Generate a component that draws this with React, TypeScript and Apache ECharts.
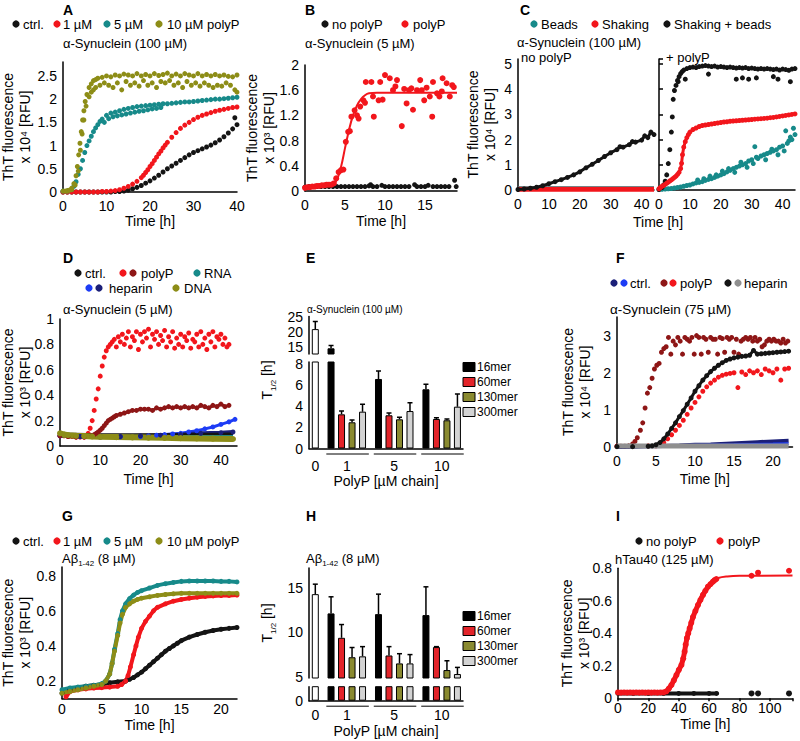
import React, { useEffect, useRef } from "react";
import * as echarts from "echarts";

// ---------------- DATA ----------------
// Panel A: α-Synuclein (100 µM), ThT x10^4 RFU vs time [h]
const A_CTRL = [[0,0],[1,0],[2,0],[3,0],[4,0],[5,0],[6,0],[7,0],[8,0],[9,0],[10,0],[11,0],[12,0.01],[13,0.01],[14,0.02],[15,0.04],[16,0.07],[17,0.1],[18,0.14],[19,0.19],[20,0.24],[21,0.3],[22,0.36],[23,0.43],[24,0.5],[25,0.56],[26,0.62],[27,0.68],[28,0.74],[29,0.8],[30,0.85],[31,0.89],[32,0.93],[33,0.97],[34,1.01],[35,1.06],[36,1.12],[37,1.19],[38,1.27],[39,1.36],[39.5,1.6],[40,1.45],[40.2,1.38]];
const A_1UM = [[0,0],[1,0],[2,0],[3,0],[4,0],[5,0],[6,0],[7,0],[8,0],[9,0.01],[10,0.01],[11,0.02],[12,0.03],[13,0.05],[14,0.08],[15,0.12],[16,0.17],[17,0.23],[18,0.31],[18.5,0.36],[19,0.42],[19.5,0.48],[20,0.55],[20.5,0.61],[21,0.68],[21.5,0.75],[22,0.82],[22.5,0.88],[23,0.95],[23.5,1.01],[24,1.07],[25,1.18],[26,1.28],[27,1.37],[28,1.44],[29,1.5],[30,1.56],[31,1.61],[32,1.65],[33,1.68],[34,1.71],[35,1.74],[36,1.76],[37,1.78],[38,1.8],[39,1.82],[40,1.83]];
const A_5UM = [[0,0.02],[1,0.02],[2,0.05],[2.5,0.12],[3,0.22],[3.5,0.38],[4,0.5],[4.5,0.68],[5,0.85],[5.5,1.0],[6,1.1],[6.5,1.2],[7,1.3],[7.5,1.38],[8,1.45],[8.5,1.52],[9,1.57],[10,1.65],[11,1.7],[12,1.72],[13,1.75],[14,1.78],[15,1.8],[16,1.82],[17,1.84],[18,1.85],[19,1.86],[20,1.87],[21,1.88],[22,1.89],[23,1.9],[24,1.9],[25,1.91],[26,1.92],[27,1.93],[28,1.94],[29,1.94],[30,1.95],[31,1.96],[32,1.97],[33,1.98],[34,1.99],[35,2.0],[36,2.0],[37,2.01],[38,2.02],[39,2.03],[40,2.04]];
const A_5UM_REP = [[9.5,1.5],[10.5,1.58],[11.5,1.62],[12.5,1.64],[13.5,1.66],[14.5,1.68],[15.5,1.7],[16.5,1.72],[17.5,1.74],[18.5,1.75],[19.5,1.77],[20.5,1.79],[21.5,1.8],[22.5,1.82]];
const A_10UM = [[0,0.02],[0.5,0.02],[1,0.03],[1.5,0.04],[2,0.08],[2.5,0.18],[3,0.35],[3.3,0.55],[3.6,0.8],[3.9,1.05],[4.2,1.3],[4.5,1.55],[4.8,1.75],[5.1,1.95],[5.5,2.1],[6,2.25],[6.5,2.33],[7,2.4],[7.5,2.42],[8,2.45],[9,2.47],[10,2.5],[11,2.48],[12,2.52],[13,2.5],[14,2.54],[15,2.52],[16,2.5],[17,2.55],[18,2.5],[19,2.53],[20,2.5],[21,2.55],[22,2.51],[23,2.53],[24,2.56],[25,2.5],[26,2.54],[27,2.5],[28,2.55],[29,2.52],[30,2.5],[31,2.55],[32,2.5],[33,2.53],[34,2.5],[35,2.53],[36,2.5],[37,2.52],[38,2.49],[39,2.48],[40,2.52]];
const A_10UM_REP = [[1,0.02],[2,0.05],[2.8,0.15],[3.5,0.45],[4,0.9],[4.4,1.25],[4.8,1.55],[5.3,1.85],[6,2.05],[6.5,2.15],[7,2.2],[7.5,2.25],[8.5,2.3],[9.5,2.35],[10.5,2.3],[11.5,2.25],[12.5,2.35],[13.5,2.2],[14.5,2.38],[15.5,2.3],[16.5,2.35],[17.5,2.28],[18.5,2.4],[19.5,2.3],[20.5,2.35],[21.5,2.25],[22.5,2.38],[23.5,2.35],[24.5,2.4],[25.5,2.3],[26.5,2.35],[27.5,2.25],[28.5,2.38],[29.5,2.3],[30.5,2.35],[31.5,2.28],[32.5,2.35],[33.5,2.3],[34.5,2.25],[35.5,2.3],[36.5,2.28],[37.5,2.35],[38.5,2.3],[39.5,2.2],[40,2.15]];

// Panel B: α-Synuclein (5 µM), ThT x10^3 RFU
const B_NOPOLYP = [[0,0.06],[0.5,0.07],[1,0.07],[1.5,0.07],[2,0.07],[2.5,0.07],[3,0.07],[3.5,0.07],[4,0.07],[4.5,0.07],[5,0.07],[5.5,0.07],[6,0.07],[6.5,0.07],[7,0.07],[7.5,0.07],[8,0.08],[8.2,0.1],[8.5,0.07],[9,0.07],[9.6,0.09],[10,0.07],[10.5,0.07],[11,0.07],[11.5,0.07],[12,0.07],[12.5,0.07],[13,0.07],[13.7,0.1],[14,0.07],[14.5,0.07],[15,0.07],[15.4,0.09],[16,0.07],[16.5,0.07],[17,0.07],[17.5,0.07],[18,0.07],[18.7,0.17],[18.9,0.07]];
const B_POLYP = [[0,0.05],[0.3,0.06],[0.6,0.06],[0.9,0.07],[1.2,0.07],[1.5,0.08],[1.8,0.08],[2.1,0.09],[2.4,0.09],[2.7,0.1],[3,0.1],[3.3,0.1],[3.6,0.12],[3.9,0.2],[4.2,0.3],[4.5,0.33],[4.8,0.34],[5.1,0.78],[5.4,0.94],[5.6,0.95],[5.8,1.18],[6.2,1.28],[6.5,1.2],[6.7,1.15],[6.9,1.34],[7.3,1.44],[7.5,1.4],[7.6,1.73],[8.3,1.73],[8.5,1.5],[8.6,1.18],[9.2,1.44],[9.4,1.73],[9.7,1.45],[10,1.84],[10.6,1.79],[11,1.6],[11.3,1.66],[11.5,1.76],[12.1,1.03],[12.4,1.62],[12.7,1.39],[13,1.6],[13.3,1.63],[13.5,1.29],[14,1.6],[14.4,1.76],[14.6,1.6],[14.9,1.44],[15.2,1.64],[15.6,1.5],[15.9,1.18],[16,1.73],[16.5,1.55],[16.8,1.5],[17.1,1.58],[17.2,1.79],[17.7,1.71],[18.1,1.5],[18.4,1.68],[18.6,1.65]];
const B_FIT = [[0,0.05],[3,0.08],[3.5,0.1],[4,0.18],[4.5,0.38],[5,0.68],[5.5,0.97],[6,1.2],[6.5,1.36],[7,1.46],[7.5,1.52],[8,1.55],[9,1.56],[19,1.56]];

// Panel C: α-Synuclein (100 µM), ThT x10^4 RFU; left: no polyP, right: + polyP
const C_NO_BEADS = [[0,0.09],[11,0.09],[22,0.09],[33,0.09],[44,0.09]];
const C_NO_SHAKE = [[0,0.03],[11,0.03],[22,0.03],[33,0.03],[44,0.03]];
const C_NO_SB = [[0,0.02],[2,0.04],[4,0.07],[6,0.11],[8,0.17],[10,0.25],[12,0.33],[14,0.41],[16,0.5],[18,0.6],[20,0.72],[22,0.88],[24,1.02],[26,1.17],[28,1.33],[30,1.48],[32,1.6],[33,1.72],[34,1.7],[36,1.8],[37,1.92],[38,1.9],[40,1.98],[41,2.15],[42,2.08],[43,2.3],[44,2.2]];
const C_P_BEADS = [[0,0.02],[1,0.03],[2,0.04],[3,0.05],[4,0.06],[5,0.08],[6,0.1],[7,0.12],[8,0.15],[9,0.18],[10,0.2],[11,0.24],[12,0.28],[12.5,0.4],[13,0.3],[14,0.33],[14.5,0.45],[15,0.38],[16,0.42],[16.5,0.55],[17,0.45],[18,0.5],[18.5,0.6],[19,0.55],[20,0.6],[20.5,0.75],[21,0.65],[22,0.72],[22.5,0.85],[23,0.78],[24,0.85],[24.5,0.7],[25,0.9],[26,0.95],[26.5,1.1],[27,1.0],[28,1.05],[28.5,0.9],[29,1.15],[30,1.2],[30.5,1.05],[31,1.72],[31.5,1.3],[32,1.25],[33,1.35],[34,1.4],[34.5,1.2],[35,1.45],[36,1.5],[36.5,1.62],[37,1.55],[38,1.6],[38.5,1.4],[39,1.7],[40,1.75],[40.5,1.55],[41,2.35],[41.5,1.85],[42,1.95],[42.5,2.1],[43,2.0],[43.5,2.45],[44,2.2]];
const C_P_SHAKE = [[0,0.05],[0.5,0.1],[1,0.15],[1.5,0.18],[2,0.22],[2.5,0.27],[3,0.31],[3.5,0.36],[4,0.4],[4.5,0.45],[5,0.5],[5.5,0.55],[6,0.62],[6.5,0.7],[7,0.85],[7.3,1.06],[7.6,1.4],[8,1.7],[8.5,1.92],[9,2.08],[9.5,2.2],[10,2.3],[11,2.4],[12,2.46],[13,2.52],[14,2.56],[15,2.58],[16,2.6],[17,2.62],[18,2.64],[19,2.66],[20,2.68],[21,2.7],[22,2.71],[23,2.73],[24,2.74],[25,2.75],[26,2.76],[27,2.77],[28,2.78],[29,2.79],[30,2.8],[31,2.81],[32,2.82],[33,2.83],[34,2.84],[35,2.85],[36,2.87],[37,2.88],[38,2.9],[39,2.92],[40,2.94],[41,2.96],[42,2.98],[43,3.0],[44,3.02]];
const C_P_SB = [[0,0.02],[1,0.1],[1.5,0.2],[2,0.35],[2.5,0.6],[3,1.05],[3.5,1.6],[4,2.3],[4.3,2.9],[4.6,3.6],[5,3.95],[5.5,4.15],[6,4.35],[6.5,4.5],[7,4.62],[7.5,4.7],[8,4.76],[9,4.82],[10,4.86],[11,4.88],[12,4.86],[13,4.9],[14,4.92],[15,4.94],[16,4.92],[17,4.9],[18,4.92],[19,4.88],[20,4.9],[21,4.88],[22,4.86],[23,4.88],[24,4.86],[25,4.84],[26,4.86],[27,4.84],[28,4.86],[29,4.82],[30,4.84],[31,4.82],[32,4.8],[33,4.82],[34,4.8],[35,4.82],[36,4.8],[37,4.78],[38,4.8],[39,4.76],[40,4.8],[41,4.78],[42,4.75],[43,4.8],[44,4.82],[6.2,4.3],[8.5,4.4],[16,4.6],[25,4.4],[27,4.45],[29,4.4],[31.5,4.45],[37,4.5],[38.5,4.4],[42.5,4.3]];

// Panel D: α-Synuclein (5 µM), ThT x10^3 RFU
const D_CTRL = [[0,0.09],[10,0.085],[20,0.085],[30,0.085],[43,0.09]];
const D_RNA = [[0,0.08],[10,0.075],[20,0.072],[30,0.07],[43,0.07]];
const D_HEP_NAVY = [[0,0.08],[5,0.075],[10,0.075],[15,0.075],[20,0.08],[25,0.085],[30,0.09],[35,0.1],[40,0.105],[43,0.11]];
const D_HEP_BLUE = [[0,0.08],[5,0.075],[10,0.07],[15,0.072],[20,0.075],[22,0.08],[24,0.085],[26,0.09],[28,0.095],[30,0.1],[32,0.11],[34,0.12],[36,0.135],[38,0.15],[40,0.17],[42,0.19],[43.5,0.21]];
const D_POLYP_DARK = [[0,0.08],[2,0.075],[4,0.07],[6,0.07],[8,0.08],[8.5,0.09],[9,0.1],[9.5,0.11],[10,0.125],[10.5,0.14],[11,0.16],[11.5,0.18],[12,0.2],[12.5,0.21],[13,0.22],[13.5,0.23],[14,0.24],[15,0.25],[16,0.26],[17,0.27],[18,0.28],[19,0.28],[20,0.29],[21,0.29],[22,0.29],[23,0.28],[24,0.3],[25,0.29],[26,0.3],[27,0.31],[28,0.3],[29,0.31],[30,0.3],[31,0.31],[32,0.3],[33,0.31],[34,0.3],[35,0.32],[36,0.31],[37,0.3],[38,0.32],[39,0.31],[40,0.33],[41,0.31],[42,0.32]];
const D_POLYP = [[0,0.08],[1,0.08],[2,0.075],[3,0.075],[4,0.07],[5,0.07],[6,0.07],[6.5,0.08],[7,0.1],[7.5,0.14],[8,0.2],[8.5,0.28],[9,0.37],[9.5,0.45],[10,0.55],[10.5,0.63],[11,0.7],[11.5,0.75],[12,0.78],[12.5,0.8],[13,0.82],[13.5,0.84],[14,0.78],[14.5,0.86],[15,0.82],[15.5,0.88],[16,0.8],[16.5,0.85],[17,0.9],[17.5,0.78],[18,0.86],[18.5,0.83],[19,0.9],[19.5,0.76],[20,0.88],[20.5,0.82],[21,0.9],[21.5,0.85],[22,0.92],[22.5,0.78],[23,0.88],[23.5,0.84],[24,0.9],[24.5,0.8],[25,0.87],[25.5,0.83],[26,0.91],[26.5,0.78],[27,0.86],[27.5,0.82],[28,0.9],[28.5,0.77],[29,0.85],[29.5,0.8],[30,0.88],[30.5,0.78],[31,0.86],[31.5,0.83],[32,0.89],[32.5,0.77],[33,0.84],[33.5,0.82],[34,0.88],[34.5,0.78],[35,0.9],[35.5,0.8],[36,0.85],[36.5,0.76],[37,0.88],[37.5,0.82],[38,0.9],[38.5,0.78],[39,0.86],[39.5,0.84],[40,0.88],[40.5,0.8],[41,0.85],[41.5,0.78],[42,0.8]];
const D_DNA = [[0,0.1],[1,0.09],[2,0.085],[4,0.08],[6,0.078],[8,0.075],[10,0.072],[14,0.07],[18,0.068],[22,0.066],[26,0.064],[30,0.062],[34,0.06],[38,0.058],[43,0.055]];

// Panel E: α-Synuclein (100 µM), T1/2 [h]
const E_CTRL = [21.1];
const E_CTRL_ERR = [2.5];
const E_16MER = [14.7, 6.55, 5.58];
const E_16MER_ERR = [0.9, 0.75, 0.47];
const E_60MER = [3.22, 3.13, 2.78];
const E_60MER_ERR = [0.31, 0.22, 0.12];
const E_130MER = [2.47, 2.75, 2.66];
const E_130MER_ERR = [0.22, 0.19, 0.12];
const E_300MER = [3.47, 3.53, 3.94];
const E_300MER_ERR = [0.69, 0.79, 1.2];

// Panel F: α-Synuclein (75 µM), ThT x10^4 RFU
const F_CTRL_NAVY = [[0,0],[2,0.01],[4,0.02],[6,0.03],[8,0.04],[10,0.06],[12,0.07],[14,0.09],[16,0.11],[18,0.13],[20,0.15],[22,0.17]];
const F_CTRL_BLUE = [[0,0.02],[5,0.03],[10,0.05],[15,0.06],[20,0.08],[22,0.09]];
const F_POLYP_RED = [[0,0.02],[2,0.02],[4,0.03],[5,0.03],[5.5,0.05],[6,0.12],[6.5,0.22],[7,0.33],[7.5,0.45],[8,0.58],[8.5,0.72],[9,0.88],[9.5,1.05],[10,1.2],[10.5,1.35],[11,1.5],[11.5,1.62],[12,1.72],[12.5,1.8],[13,1.88],[13.5,1.93],[14,1.96],[14.5,1.98],[15,2.0],[15.5,1.6],[16,2.02],[16.5,1.95],[17,2.05],[17.5,2.0],[18,2.05],[18.5,1.95],[19,2.1],[19.5,2.05],[20,2.0],[20.5,2.1],[21,1.8],[21.5,2.1],[22,2.12]];
const F_HEP_BLACK = [[0,0.01],[2,0.01],[4,0.02],[4.5,0.03],[5,0.06],[5.5,0.12],[6,0.22],[6.5,0.35],[7,0.5],[7.5,0.65],[8,0.82],[8.5,0.98],[9,1.15],[9.5,1.32],[10,1.5],[10.5,1.65],[11,1.8],[11.5,1.92],[12,2.03],[12.5,2.12],[13,2.2],[13.5,2.27],[14,2.33],[14.5,2.37],[15,2.4],[15.5,2.42],[16,2.44],[16.5,2.45],[17,2.47],[17.5,2.6],[18,2.5],[18.5,2.51],[19,2.52],[19.5,2.53],[20,2.54],[20.5,2.55],[21,2.56],[21.5,2.57],[22,2.58]];
const F_POLYP_DARK = [[0,0.02],[0.5,0.02],[1,0.02],[1.5,0.03],[2,0.08],[2.3,0.15],[2.6,0.25],[3,0.45],[3.3,0.65],[3.6,1.05],[3.9,1.45],[4.2,1.6],[4.5,1.85],[4.8,2.1],[5.1,2.2],[5.4,2.25],[5.7,2.55],[6,2.65],[6.3,2.7],[6.6,2.95],[6.9,2.5],[7.2,2.85],[7.5,2.75],[7.8,2.95],[8.1,2.85],[8.4,2.5],[8.7,2.95],[9,2.9],[9.3,2.85],[9.6,2.95],[9.9,2.5],[10.2,3.0],[10.5,2.95],[10.8,2.5],[11.1,2.95],[11.4,2.9],[11.7,2.55],[12,2.95],[12.3,2.9],[12.6,2.9],[12.9,2.5],[13.2,2.95],[13.5,2.92],[13.8,2.55],[14.1,2.95],[14.4,2.9],[14.7,2.95],[15,2.55],[15.3,2.9],[15.6,2.5],[15.9,2.85],[16.2,2.9],[16.5,2.95],[16.8,2.9],[17.1,2.95],[17.4,2.85],[17.7,2.95],[18,2.85],[18.3,2.9],[18.6,2.7],[18.9,2.75],[19.2,2.85],[19.5,2.9],[19.8,2.85],[20.1,2.9],[20.4,2.85],[20.7,2.85],[21,2.8],[21.3,2.9],[21.6,2.8],[21.9,2.85]];
const F_HEP_GREY = [[0,0.03],[5.5,0.03],[11,0.03],[16.5,0.03],[22,0.03]];

// Panel G: Aβ1-42 (8 µM), ThT x10^3 RFU
const G_CTRL = [[0,0.13],[1,0.15],[2,0.16],[3,0.17],[4,0.175],[5,0.18],[6,0.19],[7,0.195],[8,0.2],[8.5,0.21],[9,0.22],[9.5,0.235],[10,0.25],[10.5,0.27],[11,0.29],[11.5,0.31],[12,0.33],[12.5,0.35],[13,0.37],[13.5,0.385],[14,0.4],[14.5,0.415],[15,0.43],[16,0.45],[17,0.465],[18,0.478],[19,0.488],[20,0.495],[21,0.5],[22,0.505]];
const G_1UM = [[0.5,0.11],[1,0.14],[2,0.15],[3,0.155],[4,0.16],[5,0.162],[6,0.165],[7,0.17],[7.5,0.18],[8,0.2],[8.3,0.23],[8.6,0.28],[9,0.35],[9.3,0.4],[9.6,0.45],[10,0.5],[10.5,0.54],[11,0.57],[11.5,0.6],[12,0.62],[13,0.64],[14,0.655],[15,0.665],[16,0.672],[17,0.678],[18,0.682],[19,0.685],[20,0.687],[21,0.688],[22,0.69]];
const G_5UM = [[0,0.15],[1,0.16],[2,0.165],[3,0.17],[4,0.175],[5,0.185],[5.5,0.2],[6,0.24],[6.3,0.3],[6.6,0.38],[7,0.47],[7.3,0.55],[7.6,0.6],[8,0.64],[8.5,0.67],[9,0.69],[9.5,0.705],[10,0.715],[11,0.73],[12,0.745],[13,0.755],[14,0.762],[15,0.768],[16,0.77],[17,0.77],[18,0.77],[19,0.77],[20,0.768],[21,0.768],[22,0.765]];
const G_10UM = [[0,0.13],[1,0.14],[2,0.15],[3,0.16],[4,0.17],[5,0.18],[5.5,0.2],[6,0.24],[6.3,0.3],[6.6,0.37],[7,0.46],[7.3,0.53],[7.6,0.58],[8,0.62],[8.5,0.64],[9,0.655],[9.5,0.665],[10,0.672],[11,0.68],[12,0.688],[13,0.693],[14,0.697],[15,0.7],[16,0.7],[17,0.7],[18,0.7],[19,0.7],[20,0.7],[21,0.7],[22,0.7]];

// Panel H: Aβ1-42 (8 µM), T1/2 [h]
const H_CTRL = [14.34];
const H_CTRL_ERR = [1.13];
const H_16MER = [12.16, 12.08, 11.97];
const H_16MER_ERR = [1.88, 2.26, 3.2];
const H_60MER = [9.4, 7.4, 8.35];
const H_60MER_ERR = [1.5, 1.0, 0.05];
const H_130MER = [7.2, 6.5, 5.75];
const H_130MER_ERR = [1.1, 1.1, 1.05];
const H_300MER = [7.3, 6.5, 5.3];
const H_300MER_ERR = [1.1, 1.0, 0.75];

// Panel I: hTau40 (125 µM), ThT x10^3 RFU
const I_NOPOLYP = [[0,0.03],[10,0.03],[20,0.03],[30,0.03],[40,0.03],[50,0.03],[60,0.03],[65,0.03]];
const I_NOPOLYP_LATE = [[88,0.03],[92.3,0.03],[112.7,0.03]];
const I_POLYP = [[0,0.036],[2,0.035],[4,0.036],[6,0.035],[8,0.036],[10,0.035],[12,0.036],[14,0.035],[16,0.036],[18,0.035],[20,0.036],[22,0.035],[24,0.036],[26,0.035],[28,0.036],[30,0.036],[31.9,0.043],[33.5,0.06],[35.2,0.082],[36.8,0.11],[38.5,0.143],[40.1,0.175],[41.8,0.205],[43,0.245],[43.9,0.287],[44.6,0.33],[45.4,0.37],[46.3,0.4],[47.2,0.43],[48.3,0.465],[49.4,0.5],[51,0.537],[52.7,0.574],[54.3,0.605],[56,0.636],[57.6,0.662],[59.3,0.687],[61,0.703],[62.6,0.718],[63.7,0.727],[64.8,0.734]];
const I_POLYP_LATE = [[88,0.754],[92.3,0.773],[112.7,0.785]];
const I_FIT = [[0,0.035],[30,0.036],[34,0.05],[38,0.13],[42,0.23],[46,0.38],[50,0.52],[54,0.62],[58,0.68],[62,0.72],[66,0.74],[72,0.75],[80,0.754],[115,0.755]];

// Tick / category labels
const CONC_LABELS = ["0", "1", "5", "10"];
const MER_LABELS = ["16mer", "60mer", "130mer", "300mer"];

// ---------------- STYLE / LAYOUT ----------------
const FONT = "'Liberation Sans', Arial, Helvetica, sans-serif";
const COL = {
  black: "#141414", red: "#f2161c", teal: "#178a8a", olive: "#8d8d17",
  dred: "#8e1616", blue: "#1d3cf5", navy: "#1b1f78", grey: "#8f8f8f",
};
const BAR_COLORS = ["#000000", "#e3242a", "#8a8a30", "#d3d3d3"];
const GROUP_START = [1.5, 6.02, 10.54];

const GRIDS = [
  { left: 63, top: 62, width: 174, height: 130 },     // 0 A
  { left: 305, top: 65, width: 152, height: 126 },    // 1 B
  { left: 518, top: 59, width: 136, height: 131 },    // 2 C left
  { left: 659, top: 59, width: 136, height: 131 },    // 3 C right
  { left: 60, top: 319, width: 177, height: 127 },    // 4 D
  { left: 309, top: 316.5, width: 154, height: 37.5 },// 5 E upper
  { left: 309, top: 362, width: 154, height: 86.5 },  // 6 E lower
  { left: 617, top: 317, width: 175.5, height: 130 }, // 7 F
  { left: 62, top: 567, width: 175, height: 131.5 },  // 8 G
  { left: 309, top: 568, width: 154, height: 110 },   // 9 H upper
  { left: 309, top: 686.7, width: 154, height: 14 },  // 10 H lower
  { left: 618, top: 568.3, width: 174.5, height: 130 }// 11 I
];

const mult = (step: number) => (v: number) => {
  const r = v / step;
  return Math.abs(r - Math.round(r)) < 1e-6 ? String(+v.toFixed(2)) : "";
};

const lineStyle = { color: "#000", width: 1.5 };
const labelBase = { color: "#000", fontSize: 14, fontFamily: FONT, showMinLabel: true };

function xAxis(gi: number, min: number, max: number, interval: number, o: any = {}) {
  return {
    type: "value", gridIndex: gi, min, max, interval,
    axisLine: { show: true, onZero: false, lineStyle },
    axisTick: { show: !!o.tick, length: 3, lineStyle },
    splitLine: { show: false },
    axisLabel: { ...labelBase, margin: o.margin ?? 7, formatter: mult(o.labStep ?? interval), show: o.labels !== false },
    name: o.name || "", nameLocation: "middle", nameGap: o.nameGap ?? 22, nameMoveOverlap: false,
    nameTextStyle: { color: "#000", fontSize: 14, fontFamily: FONT },
    show: o.show !== false,
  };
}
function yAxis(gi: number, min: number, max: number, interval: number, o: any = {}) {
  return {
    type: "value", gridIndex: gi, min, max, interval,
    axisLine: { show: true, onZero: false, lineStyle },
    axisTick: { show: !!o.tick, inside: !!o.tickInside, length: 4, lineStyle },
    splitLine: { show: false },
    axisLabel: { ...labelBase, margin: 6, formatter: mult(o.labStep ?? interval), show: o.labels !== false },
    name: o.name || "", nameLocation: "middle", nameRotate: 90, nameGap: o.nameGap ?? 28, nameMoveOverlap: false,
    nameTextStyle: { color: "#000", fontSize: 14, fontFamily: FONT, lineHeight: 17 },
  };
}

const tht = (exp: string) => `ThT fluorescence\nx 10${exp} [RFU]`;

function dots(gi: number, data: number[][], color: string, size = 5) {
  return { type: "scatter", xAxisIndex: gi, yAxisIndex: gi, data, symbol: "circle", symbolSize: size, itemStyle: { color, opacity: 1 }, silent: true };
}
function curve(gi: number, data: number[][], color: string, width = 3, size = 5) {
  return {
    type: "line", xAxisIndex: gi, yAxisIndex: gi, data, symbol: "circle", symbolSize: size,
    showSymbol: size > 0, showAllSymbol: true, lineStyle: { color, width }, itemStyle: { color }, silent: true,
  };
}
function fitLine(gi: number, data: number[][], color: string) {
  return { type: "line", xAxisIndex: gi, yAxisIndex: gi, data, smooth: 0.4, symbol: "none", lineStyle: { color, width: 2 }, silent: true, z: 3 };
}

function barSeries(gi: number, ctrl: number[], mers: number[][]) {
  const out: any[] = [];
  out.push({
    type: "bar", xAxisIndex: gi, yAxisIndex: gi, barWidth: 7, barGap: "-100%", clip: true, silent: true,
    data: ctrl.map((v) => [0, v]), itemStyle: { color: "#fff", borderColor: "#000", borderWidth: 1 },
  });
  mers.forEach((vals, j) => {
    out.push({
      type: "bar", xAxisIndex: gi, yAxisIndex: gi, barWidth: 7, barGap: "-100%", clip: true, silent: true,
      name: MER_LABELS[j],
      data: vals.map((v, k) => [GROUP_START[k] + j, v]),
      itemStyle: { color: BAR_COLORS[j], borderColor: "#000", borderWidth: 1 },
    });
  });
  return out;
}
function errSeries(gi: number, ctrl: number[], ctrlErr: number[], mers: number[][], errs: number[][]) {
  const data: number[][] = [[0, ctrl[0], ctrlErr[0]]];
  mers.forEach((vals, j) => vals.forEach((v, k) => data.push([GROUP_START[k] + j, v, errs[j][k]])));
  return {
    type: "custom", xAxisIndex: gi, yAxisIndex: gi, clip: true, silent: true, z: 4, data,
    renderItem: (_p: any, api: any) => {
      const x = api.value(0), v = api.value(1), e = api.value(2);
      const a = api.coord([x, v]);
      const b = api.coord([x, v + e]);
      return {
        type: "group",
        children: [
          { type: "line", shape: { x1: a[0], y1: a[1], x2: b[0], y2: b[1] }, style: { stroke: "#000", lineWidth: 1.5 } },
          { type: "line", shape: { x1: b[0] - 2.5, y1: b[1], x2: b[0] + 2.5, y2: b[1] }, style: { stroke: "#000", lineWidth: 1.5 } },
        ],
      };
    },
  };
}
function groupAxisSeries(gi: number, labelTop: number) {
  const data = [[0, 0, 0, 0]].concat(GROUP_START.map((s, k) => [s + 1.5, s - 0.45, s + 3.6, k + 1]));
  return {
    type: "custom", xAxisIndex: gi, yAxisIndex: gi, clip: false, silent: true, data,
    renderItem: (_p: any, api: any) => {
      const idx = api.value(3);
      const c = api.coord([api.value(0), 0]);
      const s = api.coord([api.value(1), 0]);
      const e = api.coord([api.value(2), 0]);
      const children: any[] = [
        { type: "text", x: c[0], y: c[1] + labelTop, style: { text: CONC_LABELS[idx], fontSize: 14, fontFamily: FONT, fill: "#000", align: "center", verticalAlign: "top" } },
      ];
      if (idx > 0) children.push({ type: "line", shape: { x1: s[0], y1: s[1] + 5.5, x2: e[0], y2: e[1] + 5.5 }, style: { stroke: "#000", lineWidth: 1 } });
      return { type: "group", children };
    },
  };
}

const txt = (x: number, y: number, text: string, size = 13, extra: any = {}) => ({
  type: "text", x, y, silent: true,
  style: { text, fontSize: size, fontFamily: FONT, fill: "#000", align: "left", verticalAlign: "middle", ...extra },
});
const dot = (cx: number, cy: number, fill: string) => ({ type: "circle", silent: true, shape: { cx, cy, r: 3.6 }, style: { fill } });
const swatch = (x: number, cy: number, fill: string) => ({
  type: "rect", silent: true, shape: { x, y: cy - 4.5, width: 12, height: 9 }, style: { fill, stroke: "#000", lineWidth: 1 },
});
const abeta = (x: number, y: number) => ({
  type: "text", x, y, silent: true,
  style: {
    text: "{n|Aβ}{s|1-42}{n| (8 µM)}", fill: "#000", align: "left", verticalAlign: "middle",
    rich: {
      n: { fontSize: 13, fontFamily: FONT, fill: "#000", lineHeight: 18 },
      s: { fontSize: 8, fontFamily: FONT, fill: "#000", lineHeight: 18, verticalAlign: "bottom" },
    },
  },
});
const thalf = (x: number, y: number) => ({
  type: "text", x, y, rotation: Math.PI / 2, silent: true,
  style: {
    text: "{n|T}{s|1/2}{n| [h]}", fill: "#000", align: "center", verticalAlign: "middle",
    rich: {
      n: { fontSize: 14, fontFamily: FONT, fill: "#000", lineHeight: 20 },
      s: { fontSize: 8, fontFamily: FONT, fill: "#000", lineHeight: 20, verticalAlign: "bottom" },
    },
  },
});

function buildOption() {
  const E_MERS = [E_16MER, E_60MER, E_130MER, E_300MER];
  const E_ERRS = [E_16MER_ERR, E_60MER_ERR, E_130MER_ERR, E_300MER_ERR];
  const H_MERS = [H_16MER, H_60MER, H_130MER, H_300MER];
  const H_ERRS = [H_16MER_ERR, H_60MER_ERR, H_130MER_ERR, H_300MER_ERR];

  const xAxes = [
    xAxis(0, 0, 40, 10, { name: "Time [h]", nameGap: 22 }),
    xAxis(1, 0, 19, 5, { name: "Time [h]", nameGap: 23 }),
    xAxis(2, 0, 44, 10),
    xAxis(3, 0, 44, 10),
    xAxis(4, 0, 44, 10, { name: "Time [h]", nameGap: 26 }),
    xAxis(5, -0.6, 14.07, 1, { show: false }),
    xAxis(6, -0.6, 14.07, 1, { labels: false, name: "PolyP [µM chain]", nameGap: 25 }),
    xAxis(7, 0, 22.5, 5, { name: "Time [h]", nameGap: 25 }),
    xAxis(8, 0, 22, 5, { name: "Time [h]", nameGap: 19, margin: 3 }),
    xAxis(9, -0.6, 14.07, 1, { show: false }),
    xAxis(10, -0.6, 14.07, 1, { labels: false, name: "PolyP [µM chain]", nameGap: 23 }),
    xAxis(11, 0, 115, 20, { name: "Time [h]", nameGap: 19, margin: 3, tick: true }),
  ];
  const yAxes = [
    yAxis(0, 0, 2.8, 0.5, { name: tht("⁴"), nameGap: 30 }),
    yAxis(1, 0, 2, 0.4, { name: tht("³"), nameGap: 28 }),
    yAxis(2, 0, 5.2, 1, { name: tht("⁴"), nameGap: 20 }),
    yAxis(3, 0, 5.2, 1, { labels: false, tick: true, tickInside: true }),
    yAxis(4, 0, 1, 0.2, { name: tht("³"), nameGap: 27 }),
    yAxis(5, 12.8, 25.3, 0.1, { labStep: 5 }),
    yAxis(6, 0, 8.15, 2),
    yAxis(7, 0, 3.5, 1, { name: tht("⁴"), nameGap: 24 }),
    yAxis(8, 0.1, 0.85, 0.1, { labStep: 0.2, name: tht("³"), nameGap: 29 }),
    yAxis(9, 4.85, 17.3, 0.05, { labStep: 5 }),
    yAxis(10, 0, 1.57, 1, { labStep: 5 }),
    yAxis(11, 0, 0.8, 0.2, { name: tht("³"), nameGap: 26 }),
  ];

  const series: any[] = [
    // A
    dots(0, A_CTRL, COL.black), dots(0, A_1UM, COL.red), dots(0, A_5UM_REP, COL.teal), dots(0, A_5UM, COL.teal),
    dots(0, A_10UM_REP, COL.olive), dots(0, A_10UM, COL.olive),
    // B
    dots(1, B_NOPOLYP, COL.black), dots(1, B_POLYP, COL.red, 6), fitLine(1, B_FIT, COL.red),
    // C
    curve(2, C_NO_BEADS, COL.teal, 3, 0), curve(2, C_NO_SHAKE, COL.red, 5, 0), curve(2, C_NO_SB, COL.black, 3, 5),
    dots(3, C_P_BEADS, COL.teal), curve(3, C_P_SHAKE, COL.red, 3, 5), dots(3, C_P_SB, COL.black),
    // D (heparin drawn first so the flat baselines cover its early part, as in the reference)
    curve(4, D_HEP_BLUE, COL.blue, 3, 5), curve(4, D_HEP_NAVY, COL.navy, 4, 5),
    curve(4, D_CTRL, COL.black, 4, 0), curve(4, D_RNA, COL.teal, 4, 0),
    curve(4, D_POLYP_DARK, COL.dred, 3, 5), dots(4, D_POLYP, COL.red),
    curve(4, D_DNA, COL.olive, 6, 6),
    // E
    ...barSeries(5, E_CTRL, E_MERS), errSeries(5, E_CTRL, E_CTRL_ERR, E_MERS, E_ERRS),
    ...barSeries(6, E_CTRL, E_MERS), errSeries(6, E_CTRL, E_CTRL_ERR, E_MERS, E_ERRS), groupAxisSeries(6, 10),
    // F
    curve(7, F_CTRL_NAVY, COL.navy, 4, 0), curve(7, F_CTRL_BLUE, COL.blue, 3, 0),
    dots(7, F_POLYP_RED, COL.red), curve(7, F_HEP_BLACK, COL.black, 3, 5), dots(7, F_POLYP_DARK, COL.dred),
    curve(7, F_HEP_GREY, COL.grey, 5, 0),
    // G
    curve(8, G_CTRL, COL.black, 4, 5), curve(8, G_1UM, COL.red, 4, 5), curve(8, G_5UM, COL.teal, 4, 5), curve(8, G_10UM, COL.olive, 4, 5),
    // H
    ...barSeries(9, H_CTRL, H_MERS), errSeries(9, H_CTRL, H_CTRL_ERR, H_MERS, H_ERRS),
    ...barSeries(10, H_CTRL, H_MERS), errSeries(10, H_CTRL, H_CTRL_ERR, H_MERS, H_ERRS), groupAxisSeries(10, 7),
    // I
    curve(11, I_NOPOLYP, COL.black, 4, 5), dots(11, I_NOPOLYP_LATE, COL.black, 6),
    curve(11, I_POLYP, COL.red, 5, 6), dots(11, I_POLYP_LATE, COL.red, 6), fitLine(11, I_FIT, COL.red),
  ];

  const bold = { fontWeight: "bold" };
  const graphic: any[] = [
    // panel letters
    txt(63, 10, "A", 14, bold), txt(305, 10, "B", 14, bold), txt(520, 10, "C", 14, bold),
    txt(63, 258, "D", 14, bold), txt(306, 258, "E", 14, bold), txt(616, 258, "F", 14, bold),
    txt(62, 516, "G", 14, bold), txt(306, 516, "H", 14, bold), txt(616, 516, "I", 14, bold),
    // A legend + subtitle
    dot(16, 24, COL.black), txt(23, 24, "ctrl."), dot(57, 24, COL.red), txt(63, 24, "1 µM"),
    dot(107, 24, COL.teal), txt(114, 24, "5 µM"), dot(159, 24, COL.olive), txt(167, 24, "10 µM polyP"),
    txt(63, 43, "α-Synuclein (100 µM)"),
    // B
    dot(325, 24, COL.black), txt(332, 24, "no polyP"), dot(405, 24, COL.red), txt(413, 24, "polyP"),
    txt(305, 43, "α-Synuclein (5 µM)"),
    // C
    dot(534, 24, COL.teal), txt(541, 24, "Beads"), dot(595, 24, COL.red), txt(602, 24, "Shaking"),
    dot(667, 24, COL.black), txt(674, 24, "Shaking + beads"),
    txt(517, 42, "α-Synuclein (100 µM)"), txt(521, 57, "no polyP"), txt(666, 57, "+ polyP"),
    txt(658, 222, "Time [h]", 14, { align: "center" }),
    // D
    dot(78, 273, COL.black), txt(85, 273, "ctrl."), dot(123, 273, COL.red), dot(133, 273, COL.dred), txt(141, 273, "polyP"),
    dot(197, 273, COL.teal), txt(204, 273, "RNA"),
    dot(89, 288, COL.blue), dot(99, 288, COL.navy), txt(109, 288, "heparin"), dot(176, 288, COL.olive), txt(184, 288, "DNA"),
    txt(63, 309, "α-Synuclein (5 µM)"),
    // E
    txt(307, 309, "α-Synuclein (100 µM)", 10),
    ...MER_LABELS.flatMap((m, j) => [swatch(463, 367 + 15 * j, BAR_COLORS[j]), txt(477, 367 + 15 * j, m, 12)]),
    thalf(267, 380),
    // F
    dot(614, 283, COL.navy), dot(624, 283, COL.blue), txt(630, 283, "ctrl."),
    dot(664, 283, COL.dred), dot(673, 283, COL.red), txt(680, 283, "polyP"),
    dot(728, 283, COL.black), dot(738, 283, COL.grey), txt(744, 283, "heparin"),
    txt(610, 309, "α-Synuclein (75 µM)", 13.5),
    // G
    dot(16, 541, COL.black), txt(23, 541, "ctrl."), dot(57, 541, COL.red), txt(63, 541, "1 µM"),
    dot(107, 541, COL.teal), txt(114, 541, "5 µM"), dot(159, 541, COL.olive), txt(167, 541, "10 µM polyP"),
    abeta(62, 558),
    // H
    abeta(306, 558),
    ...MER_LABELS.flatMap((m, j) => [swatch(463, 616 + 15 * j, BAR_COLORS[j]), txt(477, 616 + 15 * j, m, 12)]),
    thalf(267, 623),
    // I
    dot(639, 541, COL.black), txt(646, 541, "no polyP"), dot(720, 541, COL.red), txt(728, 541, "polyP"),
    txt(615, 559, "hTau40 (125 µM)"),
  ];

  return {
    animation: false,
    backgroundColor: "#ffffff",
    textStyle: { fontFamily: FONT, color: "#000" },
    grid: GRIDS.map((g) => ({ ...g, containLabel: false, outerBoundsMode: "none", show: false })),
    xAxis: xAxes,
    yAxis: yAxes,
    series,
    graphic,
  };
}

export default function App() {
  const ref = useRef<HTMLDivElement>(null);
  useEffect(() => {
    const chart = echarts.init(ref.current as HTMLDivElement, null, { renderer: "svg" });
    chart.setOption(buildOption() as any);
    return () => chart.dispose();
  }, []);
  return <div ref={ref} style={{ position: "absolute", left: 0, top: 0, width: 800, height: 741, background: "#fff" }} />;
}
